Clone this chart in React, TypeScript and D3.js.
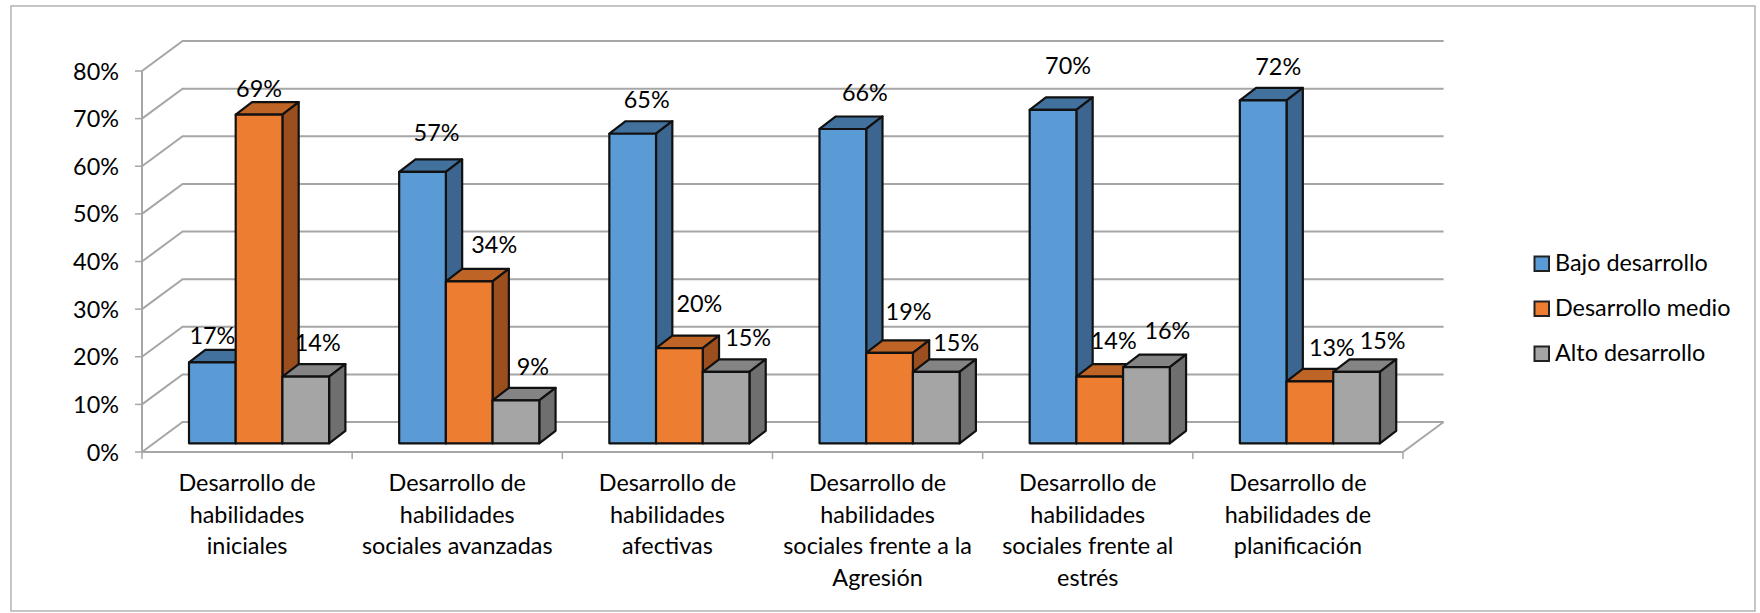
import React from "react";
import * as d3 from "d3";

const categories = [
  ["Desarrollo de", "habilidades", "iniciales"],
  ["Desarrollo de", "habilidades", "sociales avanzadas"],
  ["Desarrollo de", "habilidades", "afectivas"],
  ["Desarrollo de", "habilidades", "sociales frente a la", "Agresión"],
  ["Desarrollo de", "habilidades", "sociales frente al", "estrés"],
  ["Desarrollo de", "habilidades de", "planificación"],
];
const bajo = [17, 57, 65, 66, 70, 72];
const medio = [69, 34, 20, 19, 14, 13];
const alto = [14, 9, 15, 15, 16, 15];
const seriesNames = ["Bajo desarrollo", "Desarrollo medio", "Alto desarrollo"];
const seriesValues = [bajo, medio, alto];
const yTicks = [0, 10, 20, 30, 40, 50, 60, 70, 80];

// hand placement of the data labels in the original, relative to each bar's top centre
const labelShift = [
  [[0, -18], [14, -31], [14, -26], [22, -28], [15, -36], [15, -25]],
  [[0, -18], [25, -28], [20, -36], [19, -33], [14, -28], [22, -25]],
  [[12, -26], [17, -25], [22, -26], [20, -21], [21, -28], [26, -23]],
];

const front = ["#5b9bd5", "#ed7d31", "#a5a5a5"];
const topFace = ["#41719c", "#bd6426", "#848484"];
const side = ["#3c6690", "#9c4f1e", "#6f6f6f"];
const FONT = "Lato, Carlito, sans-serif";
const FS = 23.4;

const x0 = 142, x1 = 1403, y0 = 452, y80 = 71;
const DX = 40.6, DY = -30;
const barW = 46.7, barDX = 16.3, barDY = -12.5, barBase = 443.3, groupOffset = 47;

export default function App() {
  const y = d3.scaleLinear().domain([0, 80]).range([y0, y80]);
  const x = d3.scaleBand<number>().domain(d3.range(categories.length)).range([x0, x1]).padding(0);
  const h = (v: number) => y0 - y(v);
  const grid = "#a6a6a6";
  return (
    <svg width={1760} height={613} style={{ position: "absolute", left: 0, top: 0, background: "#fff" }} fontFamily={FONT} fontSize={FS} fill="#000">
      <rect x={11} y={6} width={1744} height={605} fill="#fff" stroke="#b3b3b3" strokeWidth={1.5} />
      {yTicks.map((t) => (
        <g key={t} fill="none" stroke={grid} strokeWidth={2}>
          <polyline points={`${x0},${y(t)} ${x0 + DX},${y(t) + DY} ${x1 + DX},${y(t) + DY}`} />
          <line x1={x0 - 7} x2={x0} y1={y(t)} y2={y(t)} strokeWidth={1.5} />
        </g>
      ))}
      <line x1={x1 + DX} x2={x1} y1={y0 + DY} y2={y0} stroke={grid} strokeWidth={2} />
      <line x1={x0} x2={x0} y1={y80} y2={y0} stroke={grid} strokeWidth={2} />
      <line x1={x0} x2={x1} y1={y0} y2={y0} stroke={grid} strokeWidth={2} />
      {d3.range(categories.length + 1).map((i) => {
        const px = i < categories.length ? (x(i) as number) : x1;
        return <line key={i} x1={px} x2={px} y1={y0} y2={y0 + 7} stroke={grid} strokeWidth={1.5} />;
      })}
      {yTicks.map((t) => (
        <text key={t} x={119} y={y(t) + 8.5} textAnchor="end">{t}%</text>
      ))}
      {categories.map((lines, i) => {
        const gx = (x(i) as number) + groupOffset;
        return (
          <g key={i}>
            {[0, 1, 2].map((s) => {
              const v = seriesValues[s][i];
              const bx = gx + s * barW;
              const top = barBase - h(v);
              return (
                <g key={s} stroke="#111" strokeWidth={2.2} strokeLinejoin="round">
                  <polygon fill={topFace[s]} points={`${bx},${top} ${bx + barDX},${top + barDY} ${bx + barW + barDX},${top + barDY} ${bx + barW},${top}`} />
                  <polygon fill={side[s]} points={`${bx + barW},${top} ${bx + barW + barDX},${top + barDY} ${bx + barW + barDX},${barBase + barDY} ${bx + barW},${barBase}`} />
                  <rect x={bx} y={top} width={barW} height={barBase - top} fill={front[s]} />
                </g>
              );
            })}
            {lines.map((l, k) => (
              <text key={k} x={(x(i) as number) + x.bandwidth() / 2} y={491 + k * 31.5} textAnchor="middle">{l}</text>
            ))}
          </g>
        );
      })}
      {categories.map((_, i) =>
        [0, 1, 2].map((s) => {
          const v = seriesValues[s][i];
          const cx = (x(i) as number) + groupOffset + (s + 0.5) * barW;
          const top = barBase - h(v);
          const [dx, dy] = labelShift[s][i];
          return <text key={`${i}-${s}`} x={cx + dx} y={top + dy} textAnchor="middle">{v}%</text>;
        })
      )}
      {seriesNames.map((n, i) => (
        <g key={n}>
          <rect x={1534.5} y={256.5 + i * 45} width={14.5} height={14.5} fill={front[i]} stroke="#222" strokeWidth={2} />
          <text x={1555} y={271 + i * 45}>{n}</text>
        </g>
      ))}
    </svg>
  );
}
